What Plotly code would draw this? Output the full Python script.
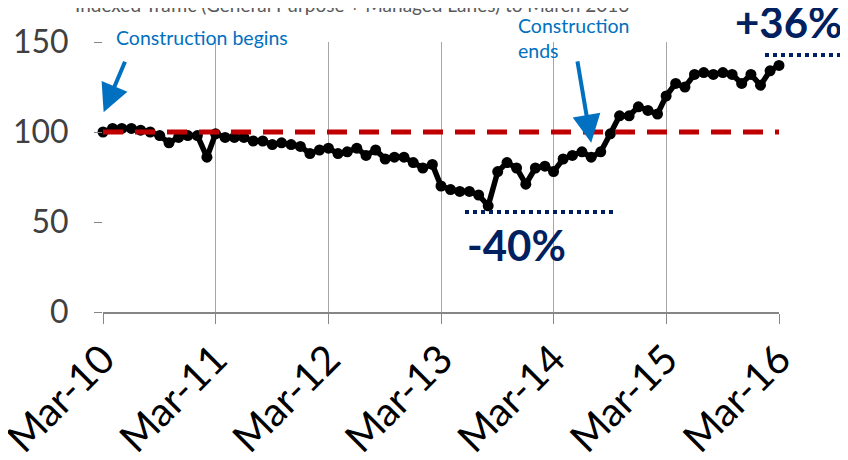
import plotly.graph_objects as go
import pandas as pd

# ---- data ----
months = pd.date_range("2010-03-01", "2016-03-01", freq="MS")
traffic = [
    100, 102, 102, 102, 101, 100, 98, 94, 97, 98, 98, 86,   # Mar-10 .. Feb-11
    99, 97, 97, 97, 95, 95, 93, 94, 93, 92, 88, 90,         # Mar-11 .. Feb-12
    91, 88, 89, 91, 87, 90, 85, 86, 86, 83, 80, 82,         # Mar-12 .. Feb-13
    70, 68, 67, 67, 65, 59, 78, 83, 80, 71, 80, 81,         # Mar-13 .. Feb-14
    78, 85, 87, 89, 86, 89, 99, 109, 109, 114, 112, 110,    # Mar-14 .. Feb-15
    120, 127, 125, 132, 133, 132, 133, 132, 127, 132, 126, 134,  # Mar-15 .. Feb-16
    137,                                                    # Mar-16
]
baseline_level = 100
tick_dates = ["2010-03-01", "2011-03-01", "2012-03-01", "2013-03-01",
              "2014-03-01", "2015-03-01", "2016-03-01"]
tick_labels = ["Mar-10", "Mar-11", "Mar-12", "Mar-13", "Mar-14", "Mar-15", "Mar-16"]
y_ticks = [0, 50, 100, 150]

FONT = "Lato"
NAVY = "#002060"
BLUE = "#0070C0"

fig = go.Figure()
fig.add_trace(go.Scatter(
    x=months, y=traffic, mode="lines+markers",
    line=dict(color="black", width=5.5),
    marker=dict(size=11, color="black"),
    cliponaxis=False, hoverinfo="skip"))
fig.add_trace(go.Scatter(
    x=[months[0], months[-1]], y=[baseline_level, baseline_level], mode="lines",
    line=dict(color="#C00000", width=5, dash="20px,12px"),
    cliponaxis=False, hoverinfo="skip"))

# page body has an 8px margin, so the figure is drawn 8px smaller and shifted
OFF = 8
W, H = 848 - OFF, 460 - OFF
L, R = 103 - OFF, 848 - 779
T, B = 42 - OFF, 460 - 312
PW, PH = W - L - R, H - T - B


def px(xp):
    return (xp - OFF - L) / PW


def py(yp):
    return (H - B - (yp - OFF)) / PH


annotations = [
    dict(text="Indexed Traffic (General Purpose + Managed Lanes) to March 2016",
         x=px(352), y=py(5), xref="paper", yref="paper", showarrow=False,
         xanchor="center", yanchor="middle", font=dict(family=FONT, size=19, color="#595959")),
    dict(text="Construction begins", x=px(114), y=py(38), xref="paper", yref="paper",
         showarrow=False, xanchor="left", yanchor="middle",
         font=dict(family=FONT, size=19.5, color=BLUE)),
    dict(text="Construction", x=px(516), y=py(25), xref="paper", yref="paper",
         showarrow=False, xanchor="left", yanchor="middle",
         font=dict(family=FONT, size=19.5, color=BLUE)),
    dict(text="ends", x=px(516), y=py(50), xref="paper", yref="paper",
         showarrow=False, xanchor="left", yanchor="middle",
         font=dict(family=FONT, size=19.5, color=BLUE)),
    dict(text="<b>+36%</b>", x=px(845), y=py(22), xref="paper", yref="paper",
         showarrow=False, xanchor="right", yanchor="middle",
         font=dict(family=FONT, size=42, color=NAVY)),
    dict(text="<b>-40%</b>", x=px(465), y=py(245), xref="paper", yref="paper",
         showarrow=False, xanchor="left", yanchor="middle",
         font=dict(family=FONT, size=42, color=NAVY)),
    # arrows
    dict(text="", x="2010-03-03", y=111, xref="x", yref="y", showarrow=True,
         ax=22, ay=-52, arrowhead=2, arrowsize=1.4, arrowwidth=4, arrowcolor=BLUE, standoff=0),
    dict(text="", x="2014-07-01", y=94, xref="x", yref="y", showarrow=True,
         ax=-14, ay=-83, arrowhead=2, arrowsize=1.4, arrowwidth=4, arrowcolor=BLUE, standoff=0),
]

shapes = [
    dict(type="line", xref="paper", yref="paper", x0=px(765), x1=px(846), y0=py(55), y1=py(55),
         line=dict(color=NAVY, width=4, dash="dot")),
    dict(type="line", xref="paper", yref="paper", x0=px(465), x1=px(613), y0=py(212), y1=py(212),
         line=dict(color=NAVY, width=4, dash="dot")),
]

fig.update_layout(
    width=W, height=H,
    margin=dict(l=L, r=R, t=T, b=B, pad=0, autoexpand=False),
    paper_bgcolor="white", plot_bgcolor="white",
    showlegend=False,
    annotations=annotations, shapes=shapes,
    xaxis=dict(type="date", range=[months[0], months[-1]],
               tickmode="array", tickvals=tick_dates, ticktext=tick_labels,
               tickangle=-45, showgrid=True, gridcolor="#A6A6A6", gridwidth=1,
               showline=True, linecolor="#868686", linewidth=1.5,
               ticks="outside", ticklen=10, tickcolor="#868686", tickwidth=1,
               zeroline=False, automargin=False, ticklabeloverflow="allow",
               ticklabelstandoff=-4,
               tickfont=dict(family=FONT, size=40, color="black")),
    yaxis=dict(range=[0, 150], tickmode="array", tickvals=y_ticks,
               showgrid=False, zeroline=False, showline=False,
               ticks="outside", ticklen=8, tickcolor="#868686", tickwidth=1,
               ticklabelstandoff=19, automargin=False,
               tickfont=dict(family=FONT, size=32, color="#404040")),
)

fig.write_html("out.html")
